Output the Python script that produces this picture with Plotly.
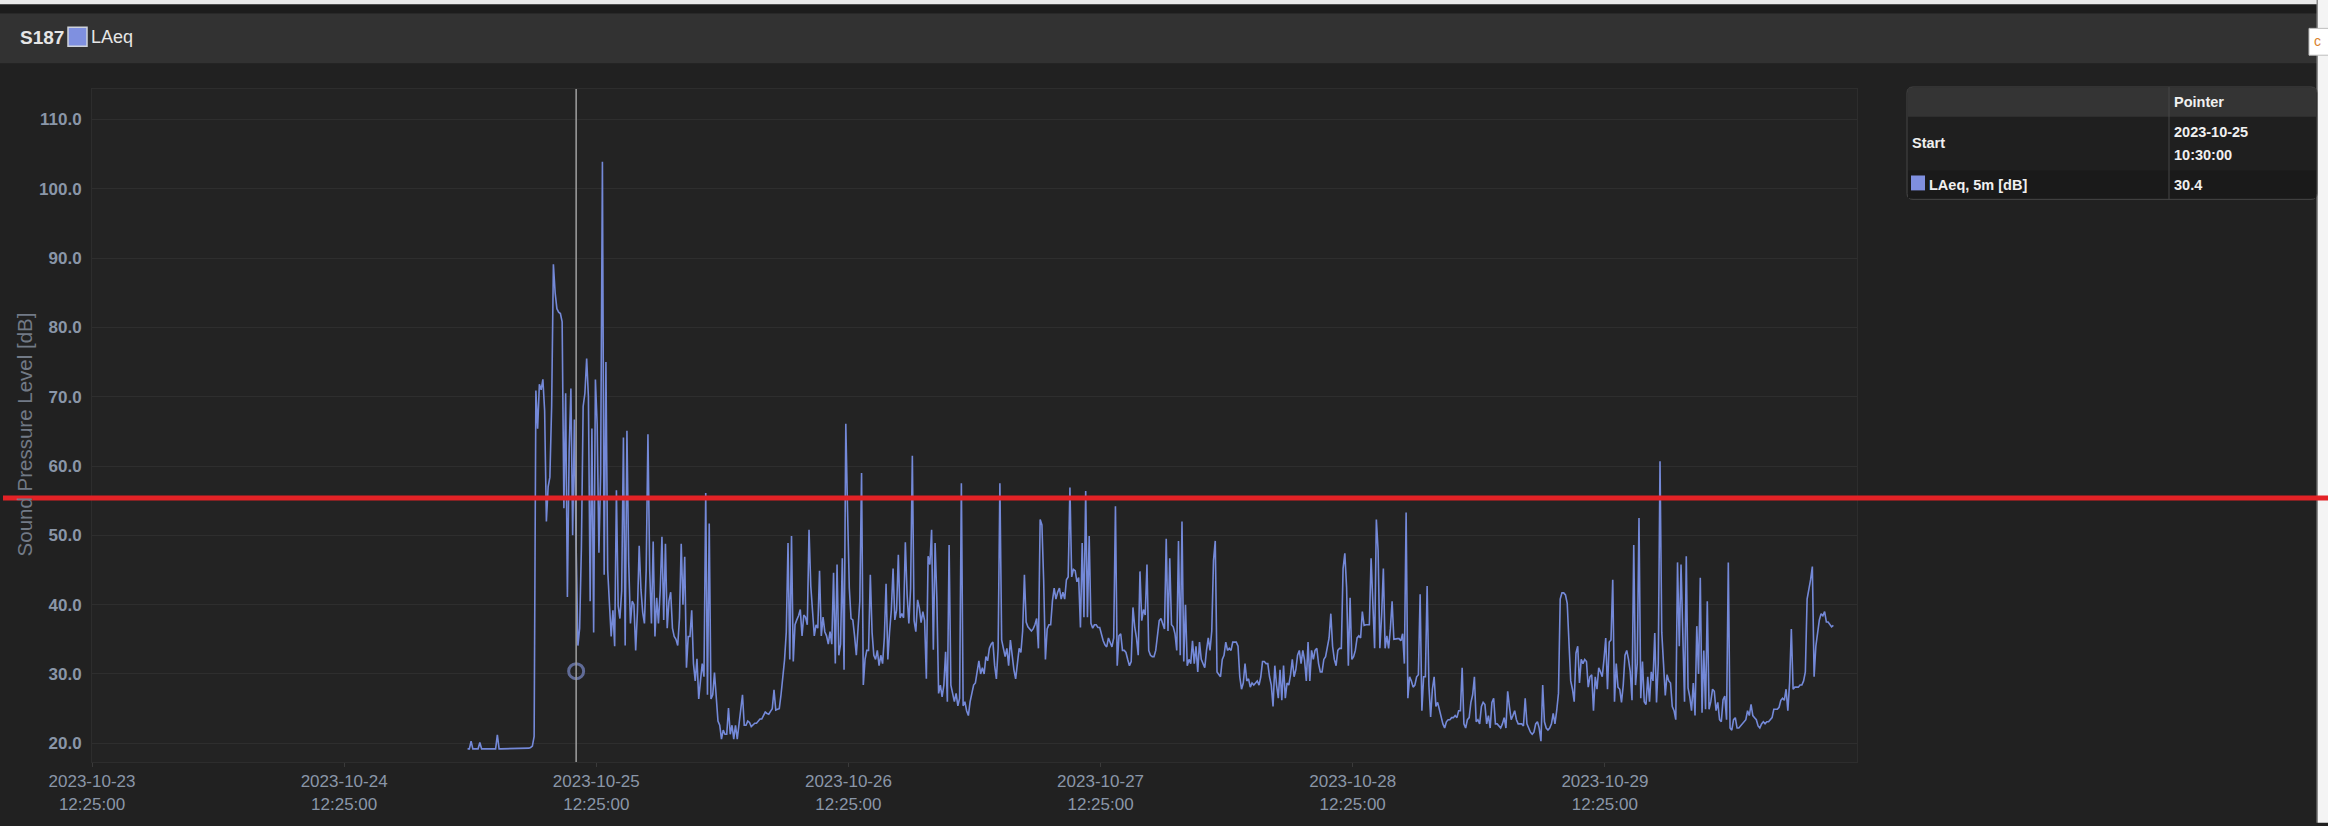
import pandas as pd
import plotly.graph_objects as go

# ---------------- data ----------------
station = "S187"
series_name = "LAeq"
table_series_label = "LAeq, 5m [dB]"
y_title = "Sound Pressure Level [dB]"

series_start = "2023-10-25 00:10:00"
series_step = "10min"
laeq_5m = [
    19.2, 19.2, 20.3, 19.2, 19.2, 19.2, 19.2, 20.1, 19.2, 19.2,
    19.2, 19.2, 19.2, 19.2, 19.2, 19.2, 19.2, 21.2, 19.2, 19.2,
    19.2, 19.2, 19.2, 19.2, 19.2, 19.2, 19.2, 19.2, 19.2, 19.2,
    19.2, 19.2, 19.2, 19.2, 19.2, 19.3, 19.4, 19.6, 21.0, 70.9,
    65.4, 71.8, 71.0, 72.5, 68.0, 52.0, 57.0, 58.4, 68.6, 89.1,
    85.0, 82.7, 82.2, 82.0, 80.8, 53.9, 70.5, 41.1, 62.2, 71.2,
    50.0, 66.7, 48.2, 34.1, 36.6, 48.2, 68.6, 70.5, 75.5, 70.0,
    40.5, 65.4, 36.0, 72.5, 66.0, 47.5, 59.0, 103.9, 44.3, 75.0,
    45.0, 39.5, 35.4, 39.2, 34.0, 56.5, 39.8, 38.0, 42.0, 64.1,
    34.1, 65.1, 46.2, 37.3, 40.5, 40.0, 33.4, 39.0, 48.5, 42.2,
    38.9, 37.3, 45.0, 64.6, 45.0, 37.3, 49.1, 35.4, 41.0, 37.3,
    42.0, 49.8, 37.8, 48.8, 36.6, 40.5, 41.8, 36.6, 35.4, 35.0,
    34.1, 38.0, 48.8, 40.0, 46.9, 30.9, 35.4, 35.4, 39.2, 31.5,
    29.0, 32.2, 26.4, 29.0, 31.5, 29.6, 56.1, 27.0, 51.7, 26.4,
    27.0, 30.2, 25.8, 23.2, 22.6, 20.6, 21.9, 21.3, 21.3, 25.1,
    21.3, 22.6, 20.6, 22.6, 20.6, 23.0, 25.1, 27.0, 22.6, 22.6,
    23.2, 23.0, 22.4, 22.6, 22.9, 22.9, 23.2, 23.5, 23.5, 24.1,
    24.5, 24.3, 24.2, 24.6, 25.0, 27.7, 24.8, 24.9, 25.0, 27.0,
    29.6, 32.0, 36.0, 48.9, 32.1, 49.9, 31.8, 37.1, 37.8, 38.4,
    39.3, 35.5, 38.5, 38.2, 37.1, 50.8, 42.7, 38.5, 35.5, 37.1,
    36.6, 44.9, 35.5, 38.2, 36.1, 35.5, 34.3, 36.1, 34.3, 44.6,
    31.5, 45.8, 32.7, 34.3, 46.7, 30.6, 66.1, 53.6, 42.4, 38.0,
    37.8, 35.5, 32.7, 36.6, 40.5, 59.0, 28.4, 32.1, 33.4, 33.4,
    44.3, 36.0, 32.7, 32.1, 33.4, 31.2, 32.7, 31.5, 35.2, 43.0,
    32.1, 36.1, 39.2, 45.2, 37.8, 39.2, 47.2, 38.1, 38.7, 38.1,
    49.0, 41.5, 37.3, 42.3, 61.5, 37.7, 36.1, 40.7, 39.5, 37.4,
    39.0, 37.7, 29.3, 47.0, 45.8, 50.8, 33.5, 48.9, 40.8, 27.2,
    28.4, 26.7, 28.4, 33.2, 26.0, 48.6, 28.4, 27.2, 26.0, 27.2,
    25.4, 26.5, 57.5, 25.4, 26.0, 24.7, 24.0, 26.0, 27.5, 28.4,
    28.7, 30.6, 31.9, 30.0, 30.9, 30.0, 32.5, 31.9, 33.7, 34.3,
    34.6, 31.2, 29.3, 33.7, 57.5, 34.9, 33.7, 32.5, 33.7, 31.2,
    34.9, 32.5, 30.6, 29.3, 31.9, 33.7, 33.1, 36.2, 44.3, 37.5,
    36.8, 36.5, 36.2, 36.5, 37.1, 38.0, 33.7, 52.3, 51.5, 43.5,
    32.1, 36.5, 37.1, 37.1, 40.5, 42.4, 40.8, 41.8, 42.4, 40.8,
    41.8, 40.8, 43.6, 44.0, 56.9, 44.0, 45.1, 44.9, 43.3, 43.9,
    36.7, 48.9, 38.2, 56.4, 38.2, 49.9, 37.3, 36.6, 37.1, 37.1,
    36.7, 36.7, 35.7, 34.8, 34.2, 33.9, 35.2, 34.6, 33.9, 35.2,
    54.2, 31.2, 35.5, 35.8, 33.4, 33.4, 33.1, 32.1, 31.2, 31.8,
    39.6, 36.8, 35.2, 32.7, 44.8, 37.7, 39.3, 38.5, 45.8, 33.4,
    32.7, 32.5, 32.5, 33.4, 35.2, 37.7, 38.0, 37.1, 36.5, 49.5,
    36.2, 46.7, 37.1, 36.8, 35.8, 33.4, 49.2, 32.7, 52.0, 31.8,
    40.0, 31.2, 32.1, 31.5, 34.8, 31.5, 34.0, 30.3, 34.6, 32.1,
    31.5, 30.9, 33.4, 35.2, 33.4, 36.2, 46.4, 49.2, 30.3, 30.0,
    29.6, 32.1, 32.7, 34.6, 33.4, 33.7, 33.4, 34.6, 34.6, 34.6,
    34.0, 29.6, 27.8, 28.7, 31.5, 29.0, 29.3, 28.1, 28.7, 28.4,
    28.7, 29.0, 28.4, 29.6, 31.8, 31.8, 31.5, 31.5, 29.6, 28.4,
    25.3, 31.2, 28.4, 26.5, 30.6, 26.2, 31.2, 26.5, 28.7, 28.4,
    29.9, 32.1, 29.6, 30.6, 32.7, 33.4, 31.5, 33.4, 32.0, 29.0,
    34.6, 29.0, 33.4, 32.1, 33.4, 33.7, 31.5, 30.3, 30.3, 32.1,
    32.5, 34.0, 35.2, 38.7, 34.0, 32.1, 31.2, 33.4, 33.7, 33.7,
    45.2, 47.4, 42.5, 31.2, 41.0, 32.1, 32.5, 33.4, 35.2, 35.5,
    35.2, 39.0, 37.0, 37.1, 37.1, 37.1, 46.7, 38.8, 33.7, 52.3,
    47.8, 33.7, 38.4, 45.2, 33.7, 35.5, 33.7, 36.5, 40.5, 35.0,
    35.1, 35.1, 35.1, 34.8, 35.8, 31.5, 53.3, 26.5, 29.6, 29.0,
    28.1, 28.4, 29.6, 29.9, 41.5, 24.7, 29.6, 29.6, 42.7, 28.4,
    23.8, 27.8, 29.6, 25.3, 25.9, 24.7, 23.5, 22.8, 22.2, 23.1,
    23.4, 23.4, 23.7, 23.7, 24.0, 23.7, 24.7, 24.7, 30.9, 22.8,
    22.2, 23.4, 23.7, 25.9, 27.0, 29.6, 23.1, 23.4, 22.8, 25.3,
    25.9, 25.6, 22.8, 24.0, 22.2, 25.9, 26.5, 22.8, 22.8, 22.5,
    22.2, 22.8, 23.7, 22.2, 27.5, 25.3, 23.4, 24.0, 24.7, 23.4,
    22.8, 22.8, 22.8, 22.5, 26.5, 22.8, 22.2, 21.6, 21.3, 21.6,
    22.8, 23.1, 22.2, 20.3, 28.4, 23.1, 22.2, 21.9, 22.2, 22.8,
    24.3, 22.8, 24.7, 27.2, 40.8, 41.7, 41.7, 41.4, 40.2, 34.6,
    29.0, 27.8, 26.0, 33.0, 34.0, 28.7, 32.1, 31.5, 32.1, 31.8,
    28.1, 29.6, 29.9, 24.7, 29.6, 27.8, 30.9, 30.3, 29.6, 32.1,
    35.2, 27.8, 34.6, 34.9, 43.6, 26.0, 31.5, 28.1, 27.8, 25.9,
    28.4, 32.7, 33.4, 32.1, 30.3, 26.2, 48.6, 28.4, 31.5, 52.5,
    26.5, 31.8, 26.0, 25.6, 29.6, 26.0, 30.3, 29.0, 35.9, 25.9,
    31.5, 60.7, 36.0, 31.5, 26.9, 29.9, 29.0, 28.7, 25.3, 24.7,
    23.4, 46.1, 34.0, 45.8, 34.6, 26.0, 47.0, 28.0, 26.7, 24.7,
    28.7, 24.0, 36.9, 30.0, 43.9, 24.4, 33.4, 24.9, 40.5, 24.9,
    26.0, 27.8, 27.5, 24.7, 25.9, 23.4, 23.1, 26.3, 26.8, 23.4,
    46.1, 22.2, 21.9, 23.4, 23.7, 22.2, 22.2, 22.5, 22.8, 23.1,
    23.4, 24.7, 24.0, 25.6, 24.0, 23.7, 23.4, 22.5, 22.2, 22.8,
    23.1, 22.8, 23.1, 23.1, 23.4, 23.7, 24.9, 24.9, 24.9, 25.2,
    26.2, 26.5, 26.2, 27.8, 24.7, 28.7, 36.5, 27.8, 28.1, 28.1,
    28.1, 28.4, 28.4, 29.0, 30.3, 40.8, 42.0, 43.6, 45.5, 29.6,
    34.0, 35.9, 37.8, 38.7, 38.4, 39.0, 37.5, 37.5, 37.1, 36.8, 37.0,
]

x_range = ["2023-10-23 12:25:00", "2023-10-30 12:25:00"]
x_tick_start = "2023-10-23 12:25:00"
x_tick_count = 7
y_range = [17.3, 114.4]
y_ticks = [20, 30, 40, 50, 60, 70, 80, 90, 100, 110]

pointer_time = "2023-10-25 10:30:00"
pointer_value = 30.4
limit_level = 55.4
table_header = "Pointer"
table_row_start = "Start"

# ---------------- geometry helpers ----------------
W, H = 2328, 826
ML, MR, MT, MB = 92, 471, 89, 60
PW = W - ML - MR
PH = H - MT - MB


def px_x(px):
    return (px - ML) / PW


def px_y(py):
    return (H - MB - py) / PH


def rect(x0, y0, x1, y1, fill, line_color=None, line_width=0, layer="below"):
    return dict(type="rect", xref="paper", yref="paper",
                x0=px_x(x0), x1=px_x(x1), y0=px_y(y1), y1=px_y(y0),
                fillcolor=fill, layer=layer,
                line=dict(color=line_color or fill, width=line_width))


def rounded_path(x0, y0, x1, y1, r):
    X0, X1 = px_x(x0), px_x(x1)
    Y0, Y1 = px_y(y0), px_y(y1)  # Y0 top (larger), Y1 bottom
    rx, ry = r / PW, r / PH
    return (f"M {X0+rx},{Y0} L {X1-rx},{Y0} Q {X1},{Y0} {X1},{Y0-ry} "
            f"L {X1},{Y1+ry} Q {X1},{Y1} {X1-rx},{Y1} L {X0+rx},{Y1} "
            f"Q {X0},{Y1} {X0},{Y1+ry} L {X0},{Y0-ry} Q {X0},{Y0} {X0+rx},{Y0} Z")


# ---------------- figure ----------------
times = pd.date_range(series_start, periods=len(laeq_5m), freq=series_step)
tick_dates = pd.date_range(x_tick_start, periods=x_tick_count, freq="D")
tick_text = [d.strftime("%Y-%m-%d") + "<br>" + d.strftime("%H:%M:%S") for d in tick_dates]

LINE_COLOR = "#7489d8"
PAGE_BG = "#212121"
TICK_COLOR = "#8a96a8"
FONT = "Liberation Sans, Arial, sans-serif"

fig = go.Figure()
fig.add_trace(go.Scatter(x=times, y=laeq_5m, mode="lines",
                         line=dict(color=LINE_COLOR, width=1.6),
                         hoverinfo="skip", showlegend=False))
fig.add_trace(go.Scatter(x=[pd.Timestamp(pointer_time)], y=[pointer_value], mode="markers",
                         marker=dict(symbol="circle-open", size=15, color="rgba(100,112,158,0.95)",
                                     line=dict(width=3)),
                         hoverinfo="skip", showlegend=False))

shapes = []
# top strip / header bar
shapes.append(rect(-1, -1, W + 1, 4, "#e9e9e9"))
shapes.append(rect(-1, 4, W + 1, 13, "#1c1c1c"))
shapes.append(rect(-1, 13, 2317, 63, "#323232"))
# legend square in header
shapes.append(rect(68, 27, 87, 46, "#7f90e0", "#cfd3dc", 1.5, layer="above"))
# right edge
shapes.append(rect(2318, -1, W + 1, H + 1, "#f4f4f4"))
shapes.append(rect(2316.5, -1, 2318, H + 1, "#8c8c8c"))
shapes.append(rect(2309, 28, W + 1, 55, "#ffffff", "#bdbdbd", 1))

# table
shapes.append(dict(type="path", xref="paper", yref="paper", layer="below",
                   path=rounded_path(1907, 87, 2317, 200, 6), fillcolor="#1f1f1f",
                   line=dict(color="#474747", width=1)))
shapes.append(rect(1908, 88, 2316, 117, "#343434"))
shapes.append(rect(1908, 171, 2316, 199, "#1a1a1a"))
shapes.append(dict(type="line", xref="paper", yref="paper", layer="below",
                   x0=px_x(2169), x1=px_x(2169), y0=px_y(87), y1=px_y(200),
                   line=dict(color="#474747", width=1)))
shapes.append(rect(1911, 176, 1925, 191, "#7f8fdf", layer="above"))

# pointer line
shapes.append(dict(type="line", xref="x", yref="paper", layer="above",
                   x0=pd.Timestamp(pointer_time), x1=pd.Timestamp(pointer_time), y0=0, y1=1,
                   line=dict(color="#a0a0a0", width=1.5)))
# red limit line across the whole picture
shapes.append(dict(type="line", xref="paper", yref="y", layer="above",
                   x0=px_x(3), x1=px_x(W + 2), y0=limit_level, y1=limit_level,
                   line=dict(color="#e32226", width=5)))

annotations = []


def text(s, x, y, size, color="#f0f0f0", anchor="left", angle=0):
    annotations.append(dict(text=s, xref="paper", yref="paper", x=px_x(x), y=px_y(y),
                            xanchor=anchor, yanchor="middle", showarrow=False,
                            textangle=angle, borderpad=0,
                            font=dict(family=FONT, size=size, color=color)))


text(f"<b>{station}</b>", 19, 37, 19, "#e6e6e6")
text(series_name, 90, 37, 18, "#e6e6e6")
text("c", 2313, 41, 14, "#d9822b")
text(y_title, 24.5, 437, 20.5, "#727a86", anchor="center", angle=-90)

pt = pd.Timestamp(pointer_time)
text(f"<b>{table_header}</b>", 2173, 102, 14.5)
text(f"<b>{table_row_start}</b>", 1911, 143, 14.5)
text(f"<b>{pt.strftime('%Y-%m-%d')}</b>", 2173, 132, 14.5)
text(f"<b>{pt.strftime('%H:%M:%S')}</b>", 2173, 155, 14.5)
text(f"<b>{table_series_label}</b>", 1928, 186, 14.5)
text(f"<b>{pointer_value:.1f}</b>", 2173, 186, 14.5)

fig.update_layout(
    width=W, height=H, autosize=False,
    margin=dict(l=ML, r=MR, t=MT, b=MB, pad=0),
    paper_bgcolor=PAGE_BG, plot_bgcolor="#232323",
    shapes=shapes, annotations=annotations, showlegend=False,
    xaxis=dict(type="date", range=x_range, tickvals=tick_dates, ticktext=tick_text,
               ticks="outside", ticklen=4, tickcolor="#3a3a3a", showgrid=False,
               showline=True, linecolor="#2d2d2d", mirror=True, zeroline=False,
               tickfont=dict(family=FONT, size=17, color=TICK_COLOR)),
    yaxis=dict(range=y_range, tickvals=y_ticks,
               ticktext=[f"<b>{v:.1f}</b>" for v in y_ticks],
               showgrid=True, gridcolor="#2e2e2e", gridwidth=1,
               showline=True, linecolor="#2d2d2d", mirror=True, zeroline=False,
               ticks="", ticklabelstandoff=6,
               tickfont=dict(family=FONT, size=17, color=TICK_COLOR)),
)

fig.write_html("out.html", config={"displayModeBar": False},
               post_script="document.body.style.margin='0';document.body.style.background='#212121';")
